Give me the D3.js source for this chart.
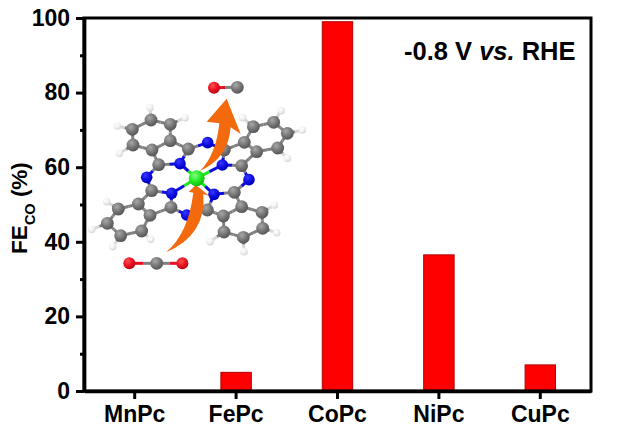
<!DOCTYPE html>
<html><head><meta charset="utf-8">
<script src="https://cdn.jsdelivr.net/npm/d3@7"></script>
<style>html,body{margin:0;padding:0;background:#fff}svg{display:block}text{font-family:"Liberation Sans",Arial,sans-serif;font-weight:700;fill:#000}</style>
</head><body><svg id="c" width="620" height="436"></svg>
<script>
const categories=["MnPc","FePc","CoPc","NiPc","CuPc"];
const feCO=[0,5,99,36.5,7];
const yMajor=[0,20,40,60,80,100];
const yMinor=[10,30,50,70,90];
const carbon=[[183,150],[241,163],[241,212],[186,240],[129,225],[127,178],[295,237],[206,284],
[490,170],[551,157],[592,190],[563,234],[500,245],[463,217],[403,240],[455,287],
[185,362],[243,412],[145,402],[85,417],[52,460],[92,497],[155,483],[180,436],
[433,367],[352,420],[400,438],[455,410],[516,427],[518,475],[460,502],[402,486]];
const nitrogen=[[353,218],[270,281],[170,322],[245,370],[290,435],[372,373],[477,329],[397,285]];
const metal=[[320,325]];
const hydrogen=[[180,113],[285,143],[82,168],[88,250],[573,122],[458,143],[637,180],[592,265],[50,395],[5,478],[68,530],[182,508],[360,515],[462,545],[560,488],[553,405]];
const bondPairs=[[0,1],[1,2],[2,3],[3,4],[4,5],[5,0],[2,6],[3,7],[6,33],[7,33],[6,32],[7,34],
[8,9],[9,10],[10,11],[11,12],[12,13],[13,8],[13,14],[12,15],[14,39],[15,39],[14,32],[15,38],
[18,19],[19,20],[20,21],[21,22],[22,23],[23,18],[16,18],[17,23],[16,35],[17,35],[16,34],[17,36],
[26,27],[27,28],[28,29],[29,30],[30,31],[31,26],[24,27],[25,26],[24,37],[25,37],[24,38],[25,36],
[40,33],[40,35],[40,37],[40,39],
[41,0],[42,1],[43,5],[44,4],[45,9],[46,8],[47,10],[48,11],[49,19],[50,20],[51,21],[52,22],[53,31],[54,30],[55,29],[56,28]];
const coMol=[[372,53,"O"],[442,52,"C"]];
const co2Mol=[[118,580,"O"],[200,580,"C"],[277,580,"O"]];

const svg=d3.select("#c");
const left=84,right=591,top_=18,bottom=391;
const x=d3.scaleBand().domain(categories).range([left,right]).paddingInner(0.7).paddingOuter(0.35);
const y=d3.scaleLinear().domain([0,100]).range([bottom,top_]);

const mx=d3.scaleLinear().domain([0,690]).range([90,320]);
const my=d3.scaleLinear().domain([0,630]).range([70,280]);
const defs=svg.append("defs");
defs.append("filter").attr("id","soft").append("feGaussianBlur").attr("stdDeviation",0.55);
const grad=(id,c0,c1,c2)=>{const g=defs.append("radialGradient").attr("id",id).attr("cx","38%").attr("cy","32%").attr("r","75%");
 g.append("stop").attr("offset","0%").attr("stop-color",c0);g.append("stop").attr("offset","55%").attr("stop-color",c1);g.append("stop").attr("offset","100%").attr("stop-color",c2);};
grad("gC","#a8a8a8","#737373","#505050");
grad("gN","#3a3aff","#0a0ae0","#0000b0");
grad("gM","#80ff80","#1fe81f","#10b010");
grad("gH","#ffffff","#efefef","#cfcfcf");
grad("gO","#ff5050","#e81020","#a80010");

const atoms=[...carbon.map(a=>({p:a,t:"C"})),...nitrogen.map(a=>({p:a,t:"N"})),...metal.map(a=>({p:a,t:"M"})),...hydrogen.map(a=>({p:a,t:"H"}))];
const col={C:"#808080",N:"#0a0ae0",M:"#1fe81f",H:"#d8d8d8",O:"#e81020"};
const rad={C:6.4,N:5.8,M:7.8,H:3.8,O:6};
const mol=svg.append("g").attr("filter","url(#soft)");
const seg=(g,a,b,ta,tb,w)=>{const mp=[(a[0]+b[0])/2,(a[1]+b[1])/2];
 [[a,mp,ta],[mp,b,tb]].forEach(([s,e,t])=>{
  g.append("line").attr("x1",mx(s[0])).attr("y1",my(s[1])).attr("x2",mx(e[0])).attr("y2",my(e[1])).attr("stroke",col[t]).attr("stroke-width",w);});};
bondPairs.forEach(([i,j])=>seg(mol,atoms[i].p,atoms[j].p,atoms[i].t,atoms[j].t,3));
seg(mol,coMol[0],coMol[1],"O","C",3);
seg(mol,co2Mol[0],co2Mol[1],"O","C",3);
seg(mol,co2Mol[1],co2Mol[2],"C","O",3);
const ball=(g,p,t)=>g.append("circle").attr("cx",mx(p[0])).attr("cy",my(p[1])).attr("r",rad[t]).attr("fill",`url(#g${t})`);
atoms.forEach(a=>ball(mol,a.p,a.t));
[...coMol,...co2Mol].forEach(a=>ball(mol,a,a[2]));
const arrowUp=d3.path();
arrowUp.moveTo(mx(330),my(303));
arrowUp.quadraticCurveTo(mx(378),my(255),mx(388),my(160));
arrowUp.lineTo(mx(350),my(155));arrowUp.lineTo(mx(410),my(86));arrowUp.lineTo(mx(452),my(192));arrowUp.lineTo(mx(422),my(172));
arrowUp.quadraticCurveTo(mx(415),my(265),mx(330),my(303));arrowUp.closePath();
const arrowLow=d3.path();
arrowLow.moveTo(mx(228),my(547));
arrowLow.quadraticCurveTo(mx(295),my(490),mx(310),my(368));
arrowLow.lineTo(mx(296),my(365));arrowLow.lineTo(mx(318),my(345));arrowLow.lineTo(mx(358),my(378));arrowLow.lineTo(mx(340),my(372));
arrowLow.quadraticCurveTo(mx(350),my(495),mx(228),my(547));arrowLow.closePath();
mol.append("path").attr("d",arrowUp.toString()).attr("fill","#f26a0c");
mol.append("path").attr("d",arrowLow.toString()).attr("fill","#f26a0c");
ball(mol,metal[0],"M");

svg.append("g").selectAll("rect").data(categories.map((c,i)=>({c,v:feCO[i]})).filter(d=>d.v>0)).join("rect")
 .attr("x",d=>x(d.c)).attr("width",x.bandwidth()).attr("y",d=>y(d.v)).attr("height",d=>y(0)-y(d.v))
 .attr("fill","#ff0000").attr("stroke","#b00000").attr("stroke-width",1);

svg.append("rect").attr("x",left).attr("y",top_).attr("width",right-left).attr("height",bottom-top_).attr("fill","none").attr("stroke","#000").attr("stroke-width",3);

const styleAxis=(g,fs)=>{g.select(".domain").attr("stroke","#000").attr("stroke-width",3.4);
 g.selectAll(".tick line").attr("stroke","#000").attr("stroke-width",3);
 g.selectAll("text").style("font-size",fs+"px");};
const yAxis=svg.append("g").attr("transform",`translate(${left},0)`).call(d3.axisLeft(y).tickValues(yMajor).tickSize(8).tickPadding(6).tickSizeOuter(0));
styleAxis(yAxis,23);
const yMin=svg.append("g").attr("transform",`translate(${left},0)`).call(d3.axisLeft(y).tickValues(yMinor).tickSize(4).tickFormat("").tickSizeOuter(0));
styleAxis(yMin,23);
const xAxis=svg.append("g").attr("transform",`translate(0,${bottom})`).call(d3.axisBottom(x).tickSize(8).tickPadding(7).tickSizeOuter(0));
styleAxis(xAxis,23);

const yl=svg.append("text").attr("transform","translate(27,208) rotate(-90)").attr("text-anchor","middle").style("font-size","22.5px");
yl.append("tspan").text("FE");
yl.append("tspan").text("CO").attr("dy",8).style("font-size","14.5px");
yl.append("tspan").text(" (%)").attr("dy",-8);
const ann=svg.append("text").attr("x",404).attr("y",60).style("font-size","25.5px");
ann.append("tspan").text("-0.8 V ");
ann.append("tspan").text("vs.").style("font-style","italic");
ann.append("tspan").text(" RHE");
</script></body></html>
